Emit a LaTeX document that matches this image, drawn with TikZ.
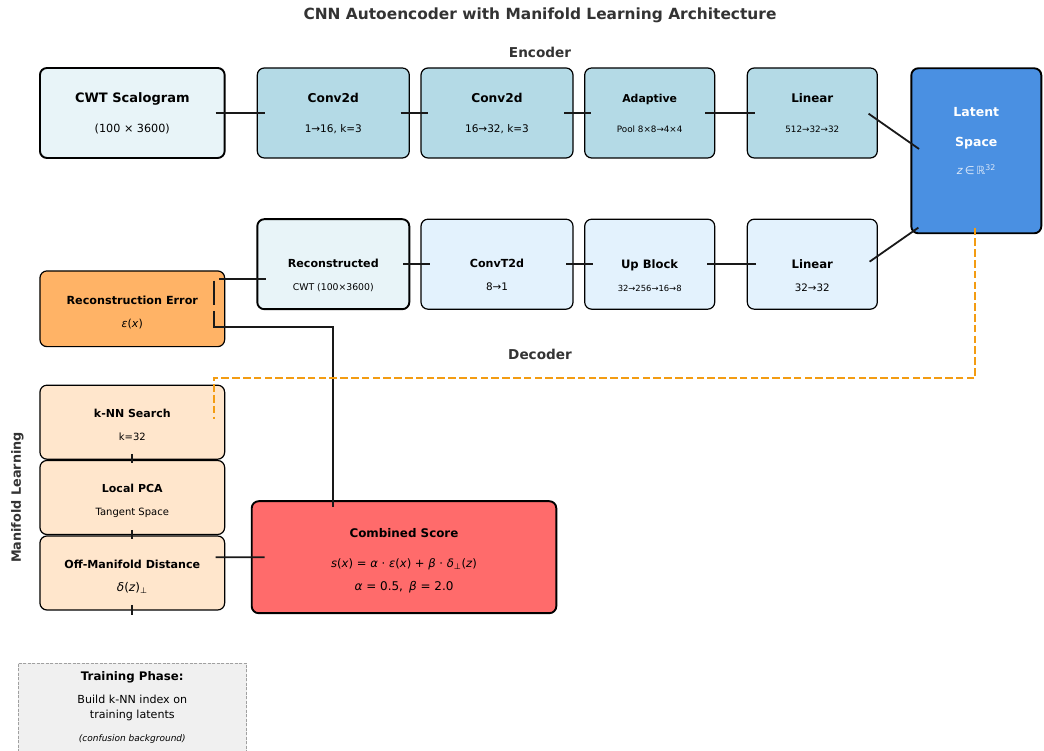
\documentclass[tikz,border=0pt]{standalone}
\usepackage{fontspec}
\setmainfont{DejaVu Sans}
\definecolor{titlegray}{HTML}{333333}
\definecolor{inputfill}{HTML}{E8F4F8}
\definecolor{encfill}{HTML}{B4DAE6}
\definecolor{latentfill}{HTML}{4A90E2}
\definecolor{latentsub}{HTML}{DCE8F8}
\definecolor{decfill}{HTML}{E3F2FD}
\definecolor{errfill}{HTML}{FFB366}
\definecolor{manifill}{HTML}{FFE6CC}
\definecolor{scorefill}{HTML}{FF6B6B}
\definecolor{trainfill}{HTML}{F0F0F0}
\definecolor{trainedge}{HTML}{A0A0A0}
\definecolor{hintorange}{HTML}{F39C12}
\newcommand\fsz[2]{\fontsize{#1}{#2}\selectfont}

\begin{document}
\begin{tikzpicture}[x=1pt,y=1pt,
	box/.style={draw=black, line width=1.2pt, rounded corners=7pt, inner sep=0pt},
	heavy/.style={line width=1.9pt},
	enc/.style={box, fill=encfill, minimum height=90pt},
	dec/.style={box, fill=decfill, minimum height=90pt},
	mani/.style={box, fill=manifill, minimum width=184.7pt, minimum height=74pt},
	lbl/.style={align=center, inner sep=0pt},
	sect/.style={font=\bfseries\fsz{13.6}{16}, text=titlegray},
	link/.style={line width=1.8pt, draw=black!90},
	hint/.style={line width=1.9pt, draw=hintorange, dash pattern=on 7.6pt off 3.2pt}]
	\useasboundingbox (0,0) rectangle (1044,751);
	\node[font=\bfseries\fsz{15.4}{18}, text=titlegray] (title) at (540,736) {CNN Autoencoder with Manifold Learning Architecture};
	\node[sect] (enclabel) at (540,699) {Encoder};
	\node[sect] (declabel) at (540,397) {Decoder};
	\node[sect, font=\bfseries\fsz{12.8}{15}, rotate=90] (manilabel) at (17.5,253.5) {Manifold Learning};
	\node[enc, heavy, fill=inputfill, minimum width=184.7pt, label={[lbl, font=\fsz{13}{30}]center:{\textbf{CWT Scalogram}\\\fsz{11.2}{13}(100 × 3600)}}] (cwt) at (132.3,638) {};
	\node[enc, minimum width=152pt, label={[lbl, font=\fsz{12.2}{30}]center:{\textbf{Conv2d}\\\fsz{10.5}{12}1→16, k=3}}] (conv1) at (333.3,638) {};
	\node[enc, minimum width=152pt, label={[lbl, font=\fsz{12.2}{30}]center:{\textbf{Conv2d}\\\fsz{10.5}{12}16→32, k=3}}] (conv2) at (497,638) {};
	\node[enc, minimum width=130pt, label={[lbl, font=\fsz{10.9}{30}]center:{\textbf{Adaptive}\\\fsz{8.8}{10}Pool 8×8→4×4}}] (pool) at (649.7,638) {};
	\node[enc, minimum width=130pt, label={[lbl, font=\fsz{11.9}{30}]center:{\textbf{Linear}\\\fsz{8.8}{10}512→32→32}}] (lin1) at (812.3,638) {};
	\node[box, heavy, fill=latentfill, minimum width=130pt, minimum height=165pt, label={[lbl, yshift=9.5pt, text=white, font=\fsz{12.5}{30}]center:{\textbf{Latent}\\\textbf{Space}\\[-2pt]\fsz{11.2}{13}\color{latentsub}\textit{z}\,∈\,ℝ\textsuperscript{32}}}] (latent) at (976.3,600.2) {};
	\node[dec, heavy, fill=inputfill, minimum width=152pt, label={[lbl, yshift=-11pt, font=\fsz{11.1}{23}]center:{\textbf{Reconstructed}\\\fsz{9.3}{11}CWT (100×3600)}}] (recon) at (333.3,486.8) {};
	\node[dec, minimum width=152pt, label={[lbl, yshift=-11pt, font=\fsz{11.1}{23}]center:{\textbf{ConvT2d}\\\fsz{10.4}{12}8→1}}] (convt) at (497,486.8) {};
	\node[dec, minimum width=130pt, label={[lbl, yshift=-11pt, font=\fsz{11.6}{23}]center:{\textbf{Up Block}\\\fsz{8.4}{10}32→256→16→8}}] (upblk) at (649.7,486.8) {};
	\node[dec, minimum width=130pt, label={[lbl, yshift=-11pt, font=\fsz{11.7}{23}]center:{\textbf{Linear}\\\fsz{10.3}{12}32→32}}] (lin2) at (812.3,486.8) {};
	\node[box, fill=errfill, minimum width=184.7pt, minimum height=75.7pt, label={[lbl, yshift=-4pt, font=\fsz{11.2}{23}]center:{\textbf{Reconstruction Error}\\\fsz{11}{13}\textit{ε}(\textit{x})}}] (error) at (132.3,442.2) {};
	\node[mani, label={[lbl, yshift=-3pt, font=\fsz{11}{23}]center:{\textbf{k-NN Search}\\\fsz{10}{12}k=32}}] (knn) at (132.3,328.8) {};
	\node[mani, label={[lbl, yshift=-3.5pt, font=\fsz{11}{23}]center:{\textbf{Local PCA}\\\fsz{10}{12}Tangent Space}}] (pca) at (132.3,253.5) {};
	\node[mani, label={[lbl, yshift=-3.5pt, font=\fsz{11.1}{23}]center:{\textbf{Off-Manifold Distance}\\\fsz{12}{14}\textit{δ}(\textit{z})\textsubscript{⊥}}}] (off) at (132.3,178) {};
	\node[box, heavy, fill=scorefill, minimum width=304.6pt, minimum height=112pt, label={[lbl, yshift=-3.3pt, font=\fsz{11.9}{30}]center:{\textbf{Combined Score}\\\fsz{11.6}{14}\textit{s}(\textit{x}) = \textit{α} · \textit{ε}(\textit{x}) + \textit{β} · \textit{δ}\textsubscript{⊥}(\textit{z})\\[-7pt]\fsz{12}{14}\textit{α} = 0.5,\enspace \textit{β} = 2.0}}] (combined) at (404,193.8) {};
	\node[draw=trainedge, fill=trainfill, line width=0.9pt, dash pattern=on 3pt off 1.5pt, inner sep=0pt, anchor=north, minimum width=228.7pt, minimum height=100pt, label={[lbl, yshift=5.7pt, font=\fsz{11.1}{15}]center:{\fsz{11.8}{14}\textbf{Training Phase:}\\[8.3pt]Build k-NN index on\\training latents\\[7.3pt]\fsz{9}{11}\textit{(confusion background)}}}] (train) at (132.3,88.3) {};
	\coordinate (offtail) at ([yshift=-4.3pt]off.south);
	\draw[link] ([xshift=-10pt]cwt.east) -- ([xshift=8pt]conv1.west);
	\draw[link] ([xshift=-9.3pt]conv1.east) -- ([xshift=8pt]conv2.west);
	\draw[link] ([xshift=-9.3pt]conv2.east) -- ([xshift=7.3pt]pool.west);
	\draw[link] ([xshift=-10pt]pool.east) -- ([xshift=8pt]lin1.west);
	\draw[link] ([xshift=-9.3pt,yshift=-0.7pt]lin1.east) -- ([xshift=8.7pt,yshift=1.8pt]latent.west);
	\draw[link] ([xshift=8pt,yshift=6.6pt]latent.south west) -- ([xshift=-8.3pt,yshift=2.5pt]lin2.east);
	\draw[link] ([xshift=9.4pt]lin2.west) -- ([xshift=-8pt]upblk.east);
	\draw[link] ([xshift=8.6pt]upblk.west) -- ([xshift=-8pt]convt.east);
	\draw[link] ([xshift=9.3pt]convt.west) -- ([xshift=-7.3pt]recon.east);
	\draw[link] ([xshift=9.4pt,yshift=-14.8pt]recon.west) -- ([xshift=-6.7pt,yshift=29.8pt]error.east);
	\draw[link, dash pattern=on 24.3pt off 6pt on 400pt] ([xshift=-11.4pt,yshift=28.1pt]error.east) -- ++(0,-46.6) -| ([xshift=-70.7pt,yshift=-6.8pt]combined.north);
	\draw[hint] ([xshift=-1pt,yshift=6.6pt]latent.south) -- ++(0,-150) -| ([xshift=-11.4pt,yshift=-34pt]knn.north east);
	\draw[link] ([yshift=6pt]knn.south) -- ([yshift=-3.5pt]pca.north);
	\draw[link] ([yshift=5.2pt]pca.south) -- ([yshift=-3.3pt]off.north);
	\draw[link] ([yshift=5.7pt]off.south) -- (offtail);
	\draw[link] ([xshift=-9.7pt,yshift=15.7pt]off.east) -- ([xshift=13.8pt]combined.west);
\end{tikzpicture}
\end{document}
